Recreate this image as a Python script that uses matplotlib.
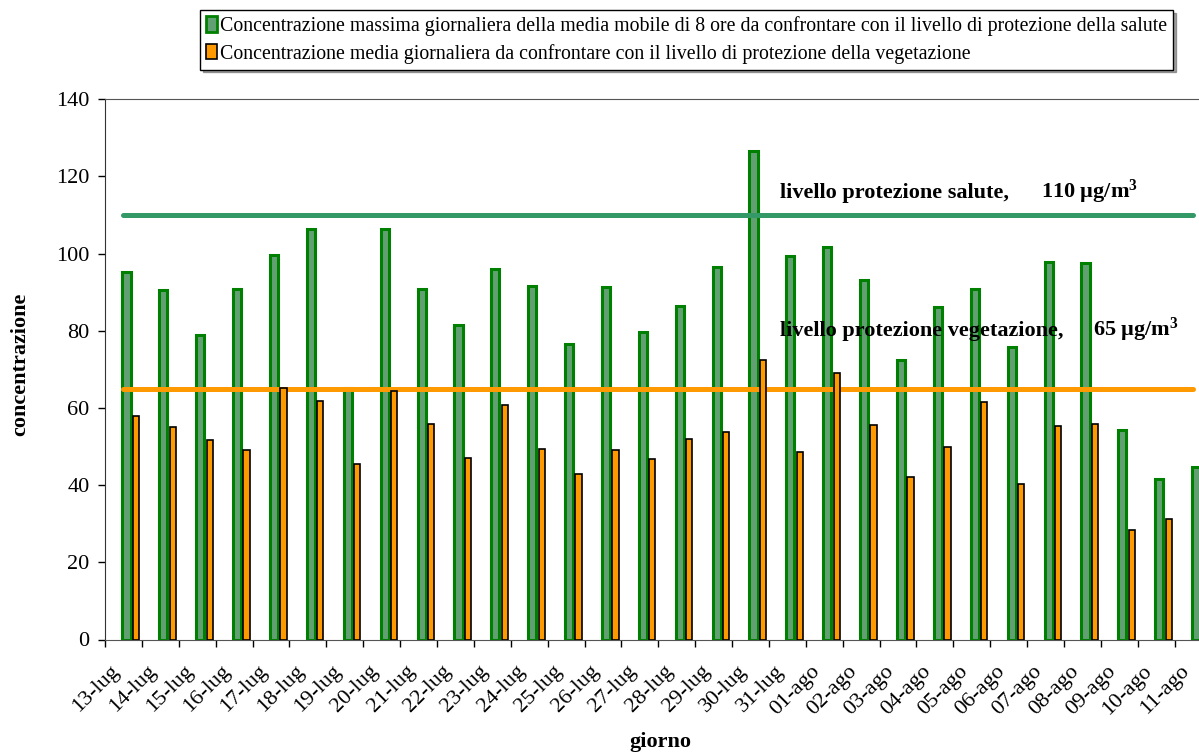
import matplotlib
matplotlib.use("Agg")
import matplotlib.pyplot as plt
import numpy as np
from matplotlib.patches import Patch

plt.rcParams['font.family'] = ['Liberation Serif', 'DejaVu Serif']
plt.rcParams['mathtext.fontset'] = 'custom'
plt.rcParams['mathtext.rm'] = 'Liberation Serif:bold'
plt.rcParams['mathtext.default'] = 'rm'

giorni = ["13-lug", "14-lug", "15-lug", "16-lug", "17-lug", "18-lug", "19-lug",
          "20-lug", "21-lug", "22-lug", "23-lug", "24-lug", "25-lug", "26-lug",
          "27-lug", "28-lug", "29-lug", "30-lug", "31-lug", "01-ago", "02-ago",
          "03-ago", "04-ago", "05-ago", "06-ago", "07-ago", "08-ago", "09-ago",
          "10-ago", "11-ago"]

# massimo giornaliero media mobile 8 ore
max_8h = [95.2, 90.7, 78.8, 90.8, 99.7, 106.5, 65.3, 106.5, 90.8, 81.4,
          96.0, 91.5, 76.6, 91.3, 79.8, 86.4, 96.5, 126.5, 99.4, 101.6,
          93.1, 72.4, 86.2, 90.9, 75.7, 97.9, 97.6, 54.3, 41.6, 44.6]

# media giornaliera
media = [58.0, 55.1, 51.8, 49.2, 65.3, 61.8, 45.4, 64.3, 55.9, 47.0,
         60.8, 49.4, 43.0, 49.2, 46.8, 51.9, 53.7, 72.5, 48.7, 69.0,
         55.6, 42.2, 49.8, 61.6, 40.3, 55.3, 55.9, 28.3, 31.2, 33.0]

soglia_salute = 110
soglia_veget = 65

x = np.arange(len(giorni))

fig = plt.figure(figsize=(11.99, 7.54), dpi=100)
ax = fig.add_axes([105/1199, 1 - 639.5/754, 1 - 105/1199, (639.5 - 99.3)/754])

ax.bar(x + 0.083, max_8h, width=0.22, color="#62a074", edgecolor="#008000",
       linewidth=2.2, zorder=2)
ax.plot(x, [soglia_salute]*len(x), color="#339966", lw=3.6,
        solid_capstyle="round", zorder=3)
ax.plot(x, [soglia_veget]*len(x), color="#ff9900", lw=3.6,
        solid_capstyle="round", zorder=3)
ax.bar(x + 0.338, media, width=0.17, color="#ff9900", edgecolor="black",
       linewidth=1.2, zorder=4)

ax.set_xlim(-0.5, 29.16)
ax.set_ylim(0, 140)
ax.set_yticks(range(0, 141, 20))
ax.tick_params(axis="y", direction="out", length=5, width=1, pad=6, labelsize=16)

ax.set_xticks(x - 0.5)
ax.set_xticklabels([])
ax.set_xticks(x, minor=True)
ax.set_xticklabels(giorni, minor=True, rotation=45, ha="right", fontsize=16)
ax.tick_params(axis="x", which="major", direction="out", length=5, width=1)
ax.tick_params(axis="x", which="minor", length=0, pad=16)

ax.spines["right"].set_visible(False)
ax.spines["top"].set_color("#555555")
ax.spines["left"].set_color("#333333")
ax.spines["bottom"].set_color("#555555")

ax.text(17.79, 114.4, "livello protezione salute,", fontsize=16, fontweight="bold",
        va="baseline", zorder=6)
ax.text(24.87, 114.4, "110 µg/m$^{3}$", fontsize=16, fontweight="bold",
        va="baseline", zorder=6)
ax.text(17.79, 78.6, "livello protezione vegetazione,", fontsize=16, fontweight="bold",
        va="baseline", zorder=6)
ax.text(26.28, 78.6, "65 µg/m$^{3}$", fontsize=16, fontweight="bold",
        va="baseline", zorder=6)

fig.text(20/1199, 1 - 364/754, "concentrazione", rotation=90, fontsize=16,
         fontweight="bold", ha="center", va="center")
fig.text(660/1199, 1 - 742/754, "giorno", fontsize=16, fontweight="bold",
         ha="center", va="center")

handles = [Patch(facecolor="#62a074", edgecolor="#008000", linewidth=2),
           Patch(facecolor="#ff9900", edgecolor="black", linewidth=1.2)]
labels = ["Concentrazione massima giornaliera della media mobile di 8 ore da confrontare con il livello di protezione della salute",
          "Concentrazione media giornaliera da confrontare con il livello di protezione della vegetazione"]
leg = fig.legend(handles, labels, loc="upper left", bbox_to_anchor=(200/1199, 1 - 10/754),
                 fontsize=14.3, frameon=True, fancybox=False, shadow=True,
                 handlelength=0.55, handleheight=0.8, handletextpad=0.15,
                 borderpad=0.3, labelspacing=0.4, borderaxespad=0)
leg.get_frame().set_edgecolor("black")
leg.get_frame().set_linewidth(1)

fig.savefig("out.png", dpi=100)
